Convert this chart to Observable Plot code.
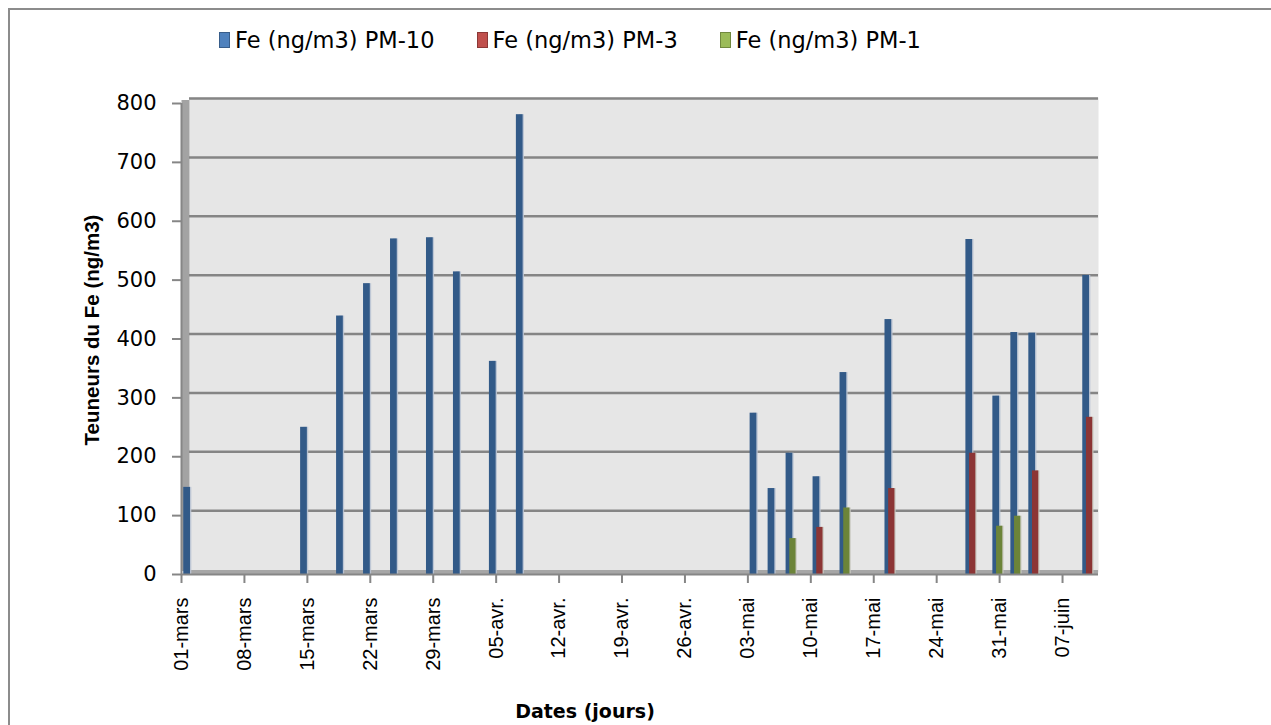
<!DOCTYPE html>
<html>
<head>
<meta charset="utf-8">
<script src="https://cdn.jsdelivr.net/npm/d3@7"></script>
<script src="https://cdn.jsdelivr.net/npm/@observablehq/plot@0.6"></script>
<style>
  html, body { margin: 0; padding: 0; background: #fff; overflow: hidden; }
  #wrap { position: relative; width: 1271px; height: 725px; overflow: hidden; }
  .bline { position: absolute; background: #8c8c8c; z-index: 5; }
  #legend { position: relative; height: 60px; display: flex; align-items: center; padding-left: 219px; gap: 42px;
            font-family: "DejaVu Sans", sans-serif; font-size: 22.5px; color: #000; box-sizing: border-box; }
  #legend .item { display: flex; align-items: center; gap: 5px; margin-top: 20px; }
  #legend .sw { width: 9px; height: 14px; border: 1px solid; }
  #chart { position: relative; }
</style>
</head>
<body>
<div id="wrap">
  <div class="bline" style="left:8px;top:8px;width:1300px;height:2px"></div>
  <div class="bline" style="left:8px;top:8px;width:2px;height:800px"></div>
  <div id="legend"></div>
  <div id="chart"></div>
</div>
<script>
// ---- data ----
const seriesNames = ["Fe (ng/m3) PM-10", "Fe (ng/m3) PM-3", "Fe (ng/m3) PM-1"];
const seriesFill = ["#325a88", "#8c3535", "#6c8439"];
const legendFill = ["#4f81bd", "#c0504d", "#9bbb59"];
const legendStroke = ["#385d8a", "#8c3836", "#71893f"];

const pm10Dates = ["2007-03-01","2007-03-14","2007-03-18","2007-03-21","2007-03-24","2007-03-28","2007-03-31","2007-04-04","2007-04-07",
                   "2007-05-03","2007-05-05","2007-05-07","2007-05-10","2007-05-13","2007-05-18","2007-05-27","2007-05-30","2007-06-01","2007-06-03","2007-06-09"];
const pm10Values = [148, 250, 439, 494, 570, 572, 514, 362, 781,
                    274, 146, 206, 166, 343, 433, 569, 303, 411, 410, 508];

const pm3Dates = ["2007-05-10","2007-05-18","2007-05-27","2007-06-03","2007-06-09"];
const pm3Values = [80, 146, 206, 176, 267];

const pm1Dates = ["2007-05-07","2007-05-13","2007-05-30","2007-06-01"];
const pm1Values = [61, 113, 82, 99];

const xTicks = ["2007-03-01","2007-03-08","2007-03-15","2007-03-22","2007-03-29","2007-04-05","2007-04-12","2007-04-19","2007-04-26",
                "2007-05-03","2007-05-10","2007-05-17","2007-05-24","2007-05-31","2007-06-07"];
const monthsFr = ["janv.","févr.","mars","avr.","mai","juin","juil.","août","sept.","oct.","nov.","déc."];
const yTicks = [0, 100, 200, 300, 400, 500, 600, 700, 800];
const xDomain = ["2007-03-01", "2007-06-11"];

// ---- build table ----
const parse = s => new Date(s + "T00:00:00Z");
const rows = [];
[[pm10Dates, pm10Values], [pm3Dates, pm3Values], [pm1Dates, pm1Values]].forEach(([ds, vs], i) => {
  ds.forEach((d, j) => rows.push({date: parse(d), value: vs[j], series: seriesNames[i], idx: i}));
});
const DAY = 864e5;
const off = (d, f) => new Date(d.getTime() + f * DAY);

// ---- legend ----
const leg = document.getElementById("legend");
seriesNames.forEach((n, i) => {
  const it = document.createElement("div");
  it.className = "item";
  it.innerHTML = `<span class="sw" style="background:${legendFill[i]};border-color:${legendStroke[i]}"></span><span>${n}</span>`;
  leg.appendChild(it);
});

// ---- chart ----
const fmt = d => String(d.getUTCDate()).padStart(2, "0") + "-" + monthsFr[d.getUTCMonth()];
const x0 = parse(xDomain[0]);

const chart = Plot.plot({
  width: 1271,
  height: 665,
  marginLeft: 181,
  marginRight: 173,
  marginTop: 43,
  marginBottom: 151,
  style: {background: "transparent", overflow: "visible", fontFamily: "'DejaVu Sans', sans-serif", color: "#000"},
  x: {type: "utc", domain: xDomain.map(parse)},
  y: {domain: [0, 800]},
  marks: [
    Plot.frame({fill: "#e6e6e6", stroke: null, insetLeft: 8, insetTop: -6, insetBottom: 2}),
    // side wall
    Plot.ruleX([x0], {y1: 0, y2: 800, stroke: "#a3a3a3", strokeWidth: 8, dx: 4, dy: -3}),
    // gridlines on back wall
    Plot.ruleY(yTicks.filter(v => v > 0), {stroke: "#858585", strokeWidth: 2.5, dy: -5, insetLeft: 8}),
    // floor
    Plot.ruleY([0], {stroke: "#a6a6a6", strokeWidth: 5, dy: -2, insetLeft: 4}),
    // bar shading
    Plot.rectY(rows.filter(r => r.idx === 0), {x1: d => off(d.date, 0.6), x2: d => off(d.date, 1.15), y: "value", fill: "#b9c3d3", fillOpacity: 0.9}),
    // bars
    Plot.rectY(rows.filter(r => r.idx === 0), {x1: d => off(d.date, 0.25), x2: d => off(d.date, 1.0), y: "value", fill: seriesFill[0]}),
    Plot.rectY(rows.filter(r => r.idx > 0), {x1: d => off(d.date, 1.0), x2: d => off(d.date, 1.5), y: "value", fill: "#c9c9c0", fillOpacity: 0.9}),
    Plot.rectY(rows.filter(r => r.idx > 0), {x1: d => off(d.date, 0.66), x2: d => off(d.date, 1.36), y: "value", fill: d => seriesFill[d.idx]}),
    // axes
    Plot.ruleX([x0], {y1: 0, y2: 800, stroke: "#868686", strokeWidth: 2}),
    Plot.ruleY([0], {stroke: "#868686", strokeWidth: 2}),
    Plot.axisY(yTicks, {tickSize: 9, tickPadding: 16, stroke: "#868686", strokeWidth: 2, fontSize: 21, tickFormat: d => String(d), label: null}),
    Plot.axisX(xTicks.map(parse), {tickSize: 9, tickPadding: 14, stroke: "#868686", strokeWidth: 2, tickRotate: -90, fontSize: 20,
      fontFamily: "'Liberation Sans', sans-serif", tickFormat: fmt, label: null}),
    // titles
    Plot.text(["Teuneurs du Fe (ng/m3)"], {frameAnchor: "left", textAnchor: "middle", rotate: -90, dx: -89, dy: -9, fontSize: 20.5, fontWeight: "bold",
      fontFamily: "'Liberation Sans', sans-serif"}),
    Plot.text(["Dates (jours)"], {frameAnchor: "bottom", textAnchor: "middle", dx: 584 - 181 - 458, dy: 143, fontSize: 19, fontWeight: "bold"})
  ]
});
document.getElementById("chart").appendChild(chart);
</script>
</body>
</html>
